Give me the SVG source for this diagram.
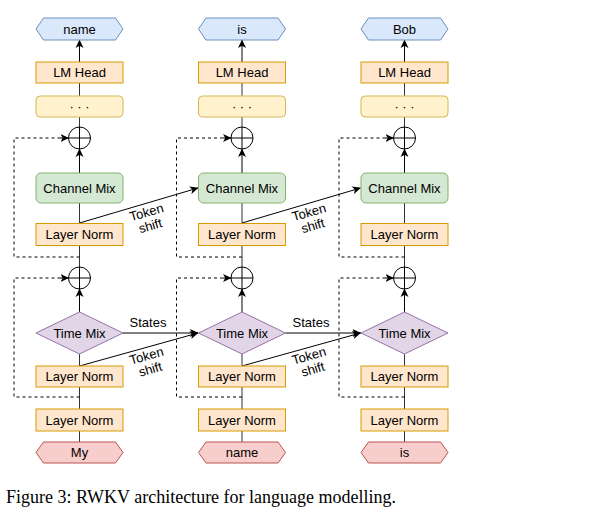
<svg xmlns="http://www.w3.org/2000/svg" width="592" height="510" viewBox="0 0 592 510">
<defs>
<marker id="arr" markerUnits="userSpaceOnUse" markerWidth="9" markerHeight="9" viewBox="0 0 9 9" refX="8" refY="4.5" orient="auto">
<path d="M0,0.5 L8.5,4.5 L0,8.5 L2.2,4.5 Z" fill="#000"/>
</marker>
<style>
.t{font-family:"Liberation Sans",Arial,sans-serif;font-size:13px;text-anchor:middle;fill:#000}
.blue{fill:#dae8fc;stroke:#6c8ebf}
.org{fill:#ffe6cc;stroke:#d79b00}
.yel{fill:#fff2cc;stroke:#d6b656}
.grn{fill:#d5e8d4;stroke:#82b366}
.pur{fill:#e1d5e7;stroke:#9673a6}
.red{fill:#f8cecc;stroke:#b85450}
.ln{stroke:#333;stroke-width:1;fill:none}
.ar{stroke:#000;stroke-width:1;fill:none;marker-end:url(#arr)}
.ds{stroke:#000;stroke-width:1;fill:none;stroke-dasharray:3,3}
.dsa{stroke:#000;stroke-width:1;fill:none;stroke-dasharray:3,3;marker-end:url(#arr)}
.pl{fill:#fff;stroke:#000;stroke-width:1}
</style>
</defs>

<g id="connectors">
<!-- column 1 -->
<path class="ln" d="M79.5,442 V431 M79.5,409 V387 M79.5,366 V354 M79.5,267 V246 M79.5,223 V203 M79.5,127 V117 M79.5,96 V83"/>
<path class="ar" d="M79.5,312 V289"/>
<path class="ar" d="M79.5,173 V149"/>
<path class="ar" d="M79.5,62 V40"/>
<path class="ds" d="M79.5,257 H14 V138 H60"/>
<path class="dsa" d="M60,138 H68.5"/>
<path class="ds" d="M79.5,397 H14 V278 H60"/>
<path class="dsa" d="M60,278 H68.5"/>
<path class="ar" d="M79.5,223 L198,188"/>
<path class="ar" d="M79.5,366 L198,333"/>
<path class="ar" d="M123,333 H198"/>
<!-- column 2 -->
<path class="ln" d="M242,442 V431 M242,409 V387 M242,366 V354 M242,267 V246 M242,223 V203 M242,127 V117 M242,96 V83"/>
<path class="ar" d="M242,312 V289"/>
<path class="ar" d="M242,173 V149"/>
<path class="ar" d="M242,62 V40"/>
<path class="ds" d="M242,257 H176.5 V138 H222.5"/>
<path class="dsa" d="M222.5,138 H231"/>
<path class="ds" d="M242,397 H176.5 V278 H222.5"/>
<path class="dsa" d="M222.5,278 H231"/>
<path class="ar" d="M242,223 L360.5,188"/>
<path class="ar" d="M242,366 L360.5,333"/>
<path class="ar" d="M285.5,333 H360.5"/>
<!-- column 3 -->
<path class="ln" d="M404.5,442 V431 M404.5,409 V387 M404.5,366 V354 M404.5,267 V246 M404.5,223 V203 M404.5,127 V117 M404.5,96 V83"/>
<path class="ar" d="M404.5,312 V289"/>
<path class="ar" d="M404.5,173 V149"/>
<path class="ar" d="M404.5,62 V40"/>
<path class="ds" d="M404.5,257 H339 V138 H385"/>
<path class="dsa" d="M385,138 H393.5"/>
<path class="ds" d="M404.5,397 H339 V278 H385"/>
<path class="dsa" d="M385,278 H393.5"/>
<!-- labels -->
<text class="t" x="148" y="326.5">States</text>
<text class="t" x="311" y="326.5">States</text>
<g transform="translate(148.3,218.5) rotate(-16)"><text class="t" x="0" y="-2">Token</text><text class="t" x="0" y="12">shift</text></g>
<g transform="translate(148.3,362) rotate(-16)"><text class="t" x="0" y="-2">Token</text><text class="t" x="0" y="12">shift</text></g>
<g transform="translate(310.8,218.5) rotate(-16)"><text class="t" x="0" y="-2">Token</text><text class="t" x="0" y="12">shift</text></g>
<g transform="translate(310.8,362) rotate(-16)"><text class="t" x="0" y="-2">Token</text><text class="t" x="0" y="12">shift</text></g>
</g>

<!-- Column 1 nodes -->
<g id="out1"><polygon class="blue" points="36,29 43.5,18 115.5,18 123,29 115.5,40 43.5,40"/><text class="t" x="79.5" y="33.6">name</text></g>
<g id="lmhead1"><rect class="org" x="36" y="62" width="87" height="21"/><text class="t" x="79.5" y="77.1">LM Head</text></g>
<g id="dots1"><rect class="yel" x="36" y="96" width="87" height="21" rx="4"/><text class="t" x="79.5" y="111.1">· · ·</text></g>
<g id="add1a"><circle class="pl" cx="79.5" cy="138" r="11"/><path class="pl" d="M68.5,138 H90.5 M79.5,127 V149"/></g>
<g id="cmix1"><rect class="grn" x="36" y="173" width="87" height="30" rx="5"/><text class="t" x="79.5" y="192.6">Channel Mix</text></g>
<g id="lnA1"><rect class="org" x="36" y="223.5" width="87" height="22"/><text class="t" x="79.5" y="239.1">Layer Norm</text></g>
<g id="add1b"><circle class="pl" cx="79.5" cy="278" r="11"/><path class="pl" d="M68.5,278 H90.5 M79.5,267 V289"/></g>
<g id="tmix1"><polygon class="pur" points="36,333 79.5,312 123,333 79.5,354"/><text class="t" x="79.5" y="337.6">Time Mix</text></g>
<g id="lnB1"><rect class="org" x="36" y="366" width="87" height="21"/><text class="t" x="79.5" y="381.1">Layer Norm</text></g>
<g id="lnC1"><rect class="org" x="36" y="409" width="87" height="22"/><text class="t" x="79.5" y="424.6">Layer Norm</text></g>
<g id="in1"><polygon class="red" points="36,452.5 43.5,442 115.5,442 123,452.5 115.5,463 43.5,463"/><text class="t" x="79.5" y="457.1">My</text></g>

<!-- Column 2 nodes -->
<g id="out2"><polygon class="blue" points="198.5,29 206,18 278,18 285.5,29 278,40 206,40"/><text class="t" x="242" y="33.6">is</text></g>
<g id="lmhead2"><rect class="org" x="198.5" y="62" width="87" height="21"/><text class="t" x="242" y="77.1">LM Head</text></g>
<g id="dots2"><rect class="yel" x="198.5" y="96" width="87" height="21" rx="4"/><text class="t" x="242" y="111.1">· · ·</text></g>
<g id="add2a"><circle class="pl" cx="242" cy="138" r="11"/><path class="pl" d="M231,138 H253 M242,127 V149"/></g>
<g id="cmix2"><rect class="grn" x="198.5" y="173" width="87" height="30" rx="5"/><text class="t" x="242" y="192.6">Channel Mix</text></g>
<g id="lnA2"><rect class="org" x="198.5" y="223.5" width="87" height="22"/><text class="t" x="242" y="239.1">Layer Norm</text></g>
<g id="add2b"><circle class="pl" cx="242" cy="278" r="11"/><path class="pl" d="M231,278 H253 M242,267 V289"/></g>
<g id="tmix2"><polygon class="pur" points="198.5,333 242,312 285.5,333 242,354"/><text class="t" x="242" y="337.6">Time Mix</text></g>
<g id="lnB2"><rect class="org" x="198.5" y="366" width="87" height="21"/><text class="t" x="242" y="381.1">Layer Norm</text></g>
<g id="lnC2"><rect class="org" x="198.5" y="409" width="87" height="22"/><text class="t" x="242" y="424.6">Layer Norm</text></g>
<g id="in2"><polygon class="red" points="198.5,452.5 206,442 278,442 285.5,452.5 278,463 206,463"/><text class="t" x="242" y="457.1">name</text></g>

<!-- Column 3 nodes -->
<g id="out3"><polygon class="blue" points="361,29 368.5,18 440.5,18 448,29 440.5,40 368.5,40"/><text class="t" x="404.5" y="33.6">Bob</text></g>
<g id="lmhead3"><rect class="org" x="361" y="62" width="87" height="21"/><text class="t" x="404.5" y="77.1">LM Head</text></g>
<g id="dots3"><rect class="yel" x="361" y="96" width="87" height="21" rx="4"/><text class="t" x="404.5" y="111.1">· · ·</text></g>
<g id="add3a"><circle class="pl" cx="404.5" cy="138" r="11"/><path class="pl" d="M393.5,138 H415.5 M404.5,127 V149"/></g>
<g id="cmix3"><rect class="grn" x="361" y="173" width="87" height="30" rx="5"/><text class="t" x="404.5" y="192.6">Channel Mix</text></g>
<g id="lnA3"><rect class="org" x="361" y="223.5" width="87" height="22"/><text class="t" x="404.5" y="239.1">Layer Norm</text></g>
<g id="add3b"><circle class="pl" cx="404.5" cy="278" r="11"/><path class="pl" d="M393.5,278 H415.5 M404.5,267 V289"/></g>
<g id="tmix3"><polygon class="pur" points="361,333 404.5,312 448,333 404.5,354"/><text class="t" x="404.5" y="337.6">Time Mix</text></g>
<g id="lnB3"><rect class="org" x="361" y="366" width="87" height="21"/><text class="t" x="404.5" y="381.1">Layer Norm</text></g>
<g id="lnC3"><rect class="org" x="361" y="409" width="87" height="22"/><text class="t" x="404.5" y="424.6">Layer Norm</text></g>
<g id="in3"><polygon class="red" points="361,452.5 368.5,442 440.5,442 448,452.5 440.5,463 368.5,463"/><text class="t" x="404.5" y="457.1">is</text></g>

<text x="6" y="503" style="font-family:'Liberation Serif','Times New Roman',serif;font-size:18px;fill:#000">Figure 3: RWKV architecture for language modelling.</text>
</svg>
